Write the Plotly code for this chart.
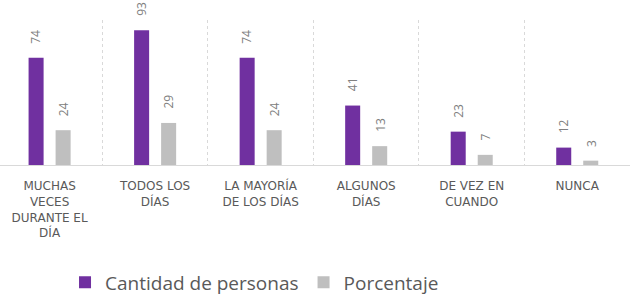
import plotly.graph_objects as go

categories = ["MUCHAS<br>VECES<br>DURANTE EL<br>DÍA", "TODOS LOS<br>DÍAS", "LA MAYORÍA<br>DE LOS DÍAS",
              "ALGUNOS<br>DÍAS", "DE VEZ EN<br>CUANDO", "NUNCA"]
cantidad = [74, 93, 74, 41, 23, 12]
porcentaje = [24, 29, 24, 13, 7, 3]
series_names = ["Cantidad de personas", "Porcentaje"]
colors = ["#7030A0", "#BFBFBF"]

fig = go.Figure()
for name, vals, col in zip(series_names, [cantidad, porcentaje], colors):
    fig.add_trace(go.Bar(x=categories, y=vals, name=name, marker=dict(color=col, line=dict(width=0))))

shifts = [-13.5, 13.5]
for vals, sh in zip([cantidad, porcentaje], shifts):
    for c, v in zip(categories, vals):
        fig.add_annotation(x=c, y=v, text=str(v), showarrow=False, textangle=-90,
                           xshift=sh, yshift=12, yanchor="bottom", xanchor="center",
                           font=dict(family="Open Sans", size=12, color="#808080"))

fig.update_layout(
    width=635, height=297,
    margin=dict(l=0, r=5, t=20, b=132, autoexpand=False),
    plot_bgcolor="white", paper_bgcolor="white",
    barmode="group", bargap=0.488, bargroupgap=0.444,
    showlegend=True,
    legend=dict(orientation="h", x=0.404, xanchor="center", y=-0.81, yanchor="middle",
                font=dict(family="Open Sans", size=19, color="#595959"), itemsizing="constant",
                tracegroupgap=0),
    xaxis=dict(tickson="boundaries", showgrid=True, gridcolor="#D9D9D9", griddash="dot", gridwidth=1,
               showline=True, linecolor="#D9D9D9", linewidth=1, ticks="", range=[-0.47, 5.5],
               automargin=False,
               tickfont=dict(family="DejaVu Sans", size=12, color="#595959"), ticklabelstandoff=10),
    yaxis=dict(range=[0, 100], showgrid=False, zeroline=False, showticklabels=False, fixedrange=True,
               automargin=False),
)

fig.write_html("out.html", config={"displayModeBar": False},
               post_script="document.body.style.margin='0';")
